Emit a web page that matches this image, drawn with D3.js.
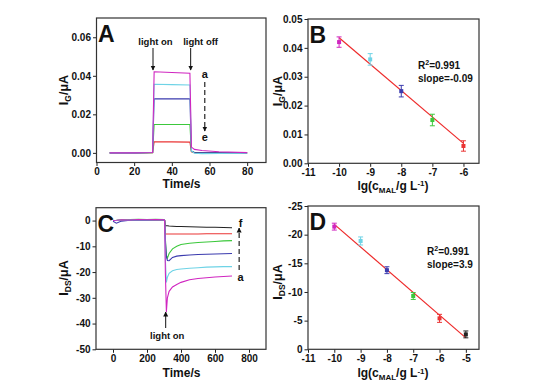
<!DOCTYPE html>
<html>
<head>
<meta charset="utf-8">
<script src="https://cdn.jsdelivr.net/npm/d3@7"></script>
<style>
body { margin: 0; background: #fff; }
svg text { font-family: "Liberation Sans", Arial, sans-serif; font-weight: bold; fill: #111; }
</style>
</head>
<body>
<script>
// ---- panel A : I_G vs time (curves a..e)
var timeA = [7, 20, 29.8, 30.6, 40, 49.6, 50.4, 52, 56, 65, 80];
var igA_a = [0, 0, 0.0002, 0.0421, 0.0417, 0.0413, 0.003, 0.0018, 0.0012, 0.0006, 0.0001];
var igA_b = [0, 0, 0.0002, 0.0356, 0.0354, 0.0352, 0.001, -0.0002, -0.0004, -0.0003, -0.0002];
var igA_c = [0, 0, 0.0002, 0.0281, 0.028, 0.028, 0.001, 0.0002, 0, 0, 0];
var igA_d = [0, 0, 0.0001, 0.0147, 0.0147, 0.0147, 0.0008, 0.0002, 0, -0.0001, -0.0001];
var igA_e = [0, 0, 0.0001, 0.0057, 0.0057, 0.0056, 0.0005, 0.0001, 0, 0, 0];

// ---- panel B : I_G vs lg c
var lgB = [-10, -9, -8, -7, -6];
var igB = [0.042, 0.036, 0.025, 0.015, 0.006];
var errB = [0.0018, 0.002, 0.002, 0.002, 0.0018];
var fitB = [0.0435, 0.0069];

// ---- panel C : I_DS vs time (curves a..f)
var timeC = [0, 20, 50, 100, 150, 200, 250, 300, 304, 308, 314, 320, 330, 350, 375, 400, 450, 500, 550, 600, 650, 700];
var idsC_a = [0, 0.1, 0.3, 0.2, 0.4, 0.3, 0.4, 0.3, 0, -20, -35.5, -30, -27.5, -25.8, -24.8, -24, -23, -22.5, -22.2, -21.9, -21.7, -21.5];
var idsC_b = [0, 0, 0.2, 0.2, 0.3, 0.2, 0.3, 0.2, 0, -15, -24, -22, -20.5, -19.5, -19, -18.8, -18.5, -18.3, -18.1, -18, -17.9, -17.9];
var idsC_c = [-0.3, -1, -0.2, 0.1, 0.2, 0.1, 0.2, 0.2, 0, -8, -14, -15.5, -15.6, -14.3, -13.8, -13.6, -13.4, -13.2, -13.1, -13, -12.9, -12.8];
var idsC_d = [0, 0.1, 0.3, 0.4, 0.5, 0.4, 0.5, 0.4, 0, -7, -13.5, -14.6, -12.8, -11, -10, -9.3, -8.8, -8.5, -8.3, -8.1, -7.9, -7.8];
var idsC_e = [0, 0, 0, 0.1, 0.1, 0.1, 0.1, 0.1, 0, -5.1, -5.2, -5.2, -5.2, -5.2, -5.2, -5.2, -5.2, -5.2, -5.1, -5.1, -5.1, -5.1];
var idsC_f = [0, 0, 0.1, 0.1, 0.1, 0.1, 0.1, 0.1, 0, -2, -2, -2, -2.1, -2.2, -2.3, -2.3, -2.4, -2.5, -2.6, -2.6, -2.7, -2.8];

// ---- panel D : I_DS vs lg c
var lgD = [-10, -9, -8, -7, -6, -5];
var idsD = [-21.4, -18.9, -13.8, -9.3, -5.4, -2.6];
var errD = [0.6, 0.7, 0.6, 0.6, 0.7, 0.6];
var fitD = [-21.8, -2.0];

var colA = ['#d026c0', '#6ed3e6', '#3b3bae', '#3cc83c', '#ea3434'];
var colC = ['#d026c0', '#6ed3e6', '#3b3bae', '#3cc83c', '#ea3434', '#222222'];
var colB = ['#d026c0', '#6ed3e6', '#3b3bae', '#3cc83c', '#ea3434', '#222222'];
var fitColor = '#ee2a2a';

var svg = d3.select('body').append('svg')
    .attr('width', 545)
    .attr('height', 389);

var defs = svg.append('defs');
defs.append('marker')
    .attr('id', 'arr')
    .attr('viewBox', '0 0 10 10')
    .attr('refX', 9).attr('refY', 5)
    .attr('markerWidth', 5).attr('markerHeight', 7)
    .attr('markerUnits', 'userSpaceOnUse')
    .attr('orient', 'auto')
    .append('path').attr('d', 'M0,0L10,5L0,10Z').attr('fill', '#111');

var plain = function(d) { return String(d); };

function makePanel(o) {
    var x = d3.scaleLinear().domain(o.xDomain).range([o.left, o.right]);
    var y = d3.scaleLinear().domain(o.yDomain).range([o.bottom, o.top]);
    var g = svg.append('g');

    var xb = g.append('g').attr('transform', 'translate(0,' + o.bottom + ')');
    xb.call(d3.axisBottom(x).tickValues(o.xMinor).tickSize(2).tickSizeOuter(0).tickFormat(''));
    xb.call(d3.axisBottom(x).tickValues(o.xTicks).tickSize(3.5).tickSizeOuter(0).tickPadding(2).tickFormat(plain));
    var yl = g.append('g').attr('transform', 'translate(' + o.left + ',0)');
    yl.call(d3.axisLeft(y).tickValues(o.yMinor).tickSize(2).tickSizeOuter(0).tickFormat(''));
    yl.call(d3.axisLeft(y).tickValues(o.yTicks).tickSize(3.5).tickSizeOuter(0).tickPadding(2).tickFormat(o.yFmt || plain));
    g.selectAll('.domain').remove();
    g.selectAll('.tick line').attr('stroke', '#222');
    g.selectAll('.tick text').attr('font-size', 10);

    g.append('rect')
        .attr('x', o.left).attr('y', o.top)
        .attr('width', o.right - o.left).attr('height', o.bottom - o.top)
        .attr('fill', 'none').attr('stroke', '#333').attr('stroke-width', 1.2);

    g.append('text')
        .attr('x', o.left + 1.5).attr('y', o.top + 24)
        .attr('font-size', 23)
        .text(o.letter);
    return { x: x, y: y, g: g };
}

function yTitle(g, xPos, yPos, main, sub) {
    var t = g.append('text')
        .attr('transform', 'translate(' + xPos + ',' + yPos + ') rotate(-90)')
        .attr('text-anchor', 'middle')
        .attr('font-size', 12.5);
    t.append('tspan').text(main);
    t.append('tspan').attr('font-size', 8.5).attr('dy', 3).text(sub);
    t.append('tspan').attr('dy', -3).text('/\u03bcA');
}

function lgTitle(g, xPos, yPos) {
    var t = g.append('text')
        .attr('x', xPos).attr('y', yPos)
        .attr('text-anchor', 'middle')
        .attr('font-size', 12);
    t.append('tspan').text('lg(c');
    t.append('tspan').attr('font-size', 8).attr('dy', 3).text('MAL');
    t.append('tspan').attr('dy', -3).text('/g L');
    t.append('tspan').attr('font-size', 8).attr('dy', -3.5).text('-1');
    t.append('tspan').attr('dy', 3.5).text(')');
}

function fitText(g, xPos, yPos, slope) {
    var t = g.append('text').attr('x', xPos).attr('y', yPos).attr('font-size', 10);
    t.append('tspan').text('R');
    t.append('tspan').attr('font-size', 7).attr('dy', -4).text('2');
    t.append('tspan').attr('dy', 4).text('=0.991');
    g.append('text').attr('x', xPos).attr('y', yPos + 13).attr('font-size', 10).text('slope=' + slope);
}

// ================= A
var A = makePanel({
    left: 96.5, right: 266, top: 18, bottom: 162.5,
    xDomain: [0, 90], yDomain: [-0.005, 0.07],
    xTicks: [0, 20, 40, 60, 80], xMinor: [10, 30, 50, 70],
    yTicks: [0, 0.02, 0.04, 0.06], yMinor: [0.01, 0.03, 0.05],
    yFmt: d3.format('.2f'), letter: 'A'
});
var lineA = d3.line().x(function(d) { return A.x(d[0]); }).y(function(d) { return A.y(d[1]); });
[igA_e, igA_d, igA_c, igA_b, igA_a].forEach(function(s, i) {
    A.g.append('path')
        .datum(timeA.map(function(t, j) { return [t, s[j]]; }))
        .attr('d', lineA)
        .attr('fill', 'none')
        .attr('stroke', colA[4 - i])
        .attr('stroke-width', 1.1);
});
A.g.append('text').attr('x', A.x(31.3)).attr('y', 45).attr('text-anchor', 'middle').attr('font-size', 9.5).text('light on');
A.g.append('text').attr('x', A.x(55.3)).attr('y', 45).attr('text-anchor', 'middle').attr('font-size', 9.5).text('light off');
[30, 50].forEach(function(t) {
    A.g.append('line')
        .attr('x1', A.x(t)).attr('x2', A.x(t))
        .attr('y1', 48).attr('y2', 70)
        .attr('stroke', '#111').attr('stroke-width', 1)
        .attr('marker-end', 'url(#arr)');
});
A.g.append('text').attr('x', A.x(57.5)).attr('y', 78).attr('text-anchor', 'middle').attr('font-size', 11).text('a');
A.g.append('text').attr('x', A.x(57.5)).attr('y', 141).attr('text-anchor', 'middle').attr('font-size', 11).text('e');
A.g.append('line')
    .attr('x1', A.x(57.5)).attr('x2', A.x(57.5))
    .attr('y1', 82).attr('y2', 131)
    .attr('stroke', '#111').attr('stroke-width', 1.1)
    .attr('stroke-dasharray', '5,3')
    .attr('marker-end', 'url(#arr)');
A.g.append('text').attr('x', 181.5).attr('y', 188).attr('text-anchor', 'middle').attr('font-size', 12).text('Time/s');
yTitle(A.g, 68, 90, 'I', 'G');

// ================= B
var B = makePanel({
    left: 308, right: 479, top: 19, bottom: 163.3,
    xDomain: [-11, -5.5], yDomain: [0, 0.05],
    xTicks: [-11, -10, -9, -8, -7, -6], xMinor: [-10.5, -9.5, -8.5, -7.5, -6.5],
    yTicks: [0, 0.01, 0.02, 0.03, 0.04, 0.05], yMinor: [0.005, 0.015, 0.025, 0.035, 0.045],
    yFmt: d3.format('.2f'), letter: 'B'
});
B.g.append('line')
    .attr('x1', B.x(lgB[0])).attr('x2', B.x(lgB[lgB.length - 1]))
    .attr('y1', B.y(fitB[0])).attr('y2', B.y(fitB[1]))
    .attr('stroke', fitColor).attr('stroke-width', 1.2);
function errPoints(P, xs, ys, es) {
    xs.forEach(function(v, i) {
        var c = colB[i];
        var cx = P.x(v);
        P.g.append('line').attr('x1', cx).attr('x2', cx)
            .attr('y1', P.y(ys[i] - es[i])).attr('y2', P.y(ys[i] + es[i]))
            .attr('stroke', c).attr('stroke-width', 1);
        [ys[i] - es[i], ys[i] + es[i]].forEach(function(e) {
            P.g.append('line').attr('x1', cx - 2.5).attr('x2', cx + 2.5)
                .attr('y1', P.y(e)).attr('y2', P.y(e))
                .attr('stroke', c).attr('stroke-width', 1);
        });
        P.g.append('rect').attr('x', cx - 2).attr('y', P.y(ys[i]) - 2)
            .attr('width', 4).attr('height', 4).attr('fill', c);
    });
}
errPoints(B, lgB, igB, errB);
fitText(B.g, 418, 68.5, '-0.09');
lgTitle(B.g, 393, 189.5);
yTitle(B.g, 281.5, 91, 'I', 'G');

// ================= C
var C = makePanel({
    left: 96, right: 266, top: 207.7, bottom: 349.3,
    xDomain: [-100, 900], yDomain: [-50, 5],
    xTicks: [0, 200, 400, 600, 800], xMinor: [100, 300, 500, 700],
    yTicks: [0, -10, -20, -30, -40, -50], yMinor: [-5, -15, -25, -35, -45],
    letter: 'C'
});
var lineC = d3.line().x(function(d) { return C.x(d[0]); }).y(function(d) { return C.y(d[1]); });
[idsC_f, idsC_e, idsC_d, idsC_c, idsC_b, idsC_a].forEach(function(s, i) {
    C.g.append('path')
        .datum(timeC.map(function(t, j) { return [t, s[j]]; }))
        .attr('d', lineC)
        .attr('fill', 'none')
        .attr('stroke', colC[5 - i])
        .attr('stroke-width', 1.1);
});
C.g.append('text').attr('x', C.x(751)).attr('y', 227).attr('text-anchor', 'middle').attr('font-size', 11).text('f');
C.g.append('text').attr('x', C.x(751)).attr('y', 281).attr('text-anchor', 'middle').attr('font-size', 11).text('a');
C.g.append('line')
    .attr('x1', C.x(742)).attr('x2', C.x(742))
    .attr('y1', 270).attr('y2', 228)
    .attr('stroke', '#111').attr('stroke-width', 1.1)
    .attr('stroke-dasharray', '5,3')
    .attr('marker-end', 'url(#arr)');
C.g.append('line')
    .attr('x1', C.x(310)).attr('x2', C.x(310))
    .attr('y1', 328).attr('y2', 312)
    .attr('stroke', '#111').attr('stroke-width', 1)
    .attr('marker-end', 'url(#arr)');
C.g.append('text').attr('x', C.x(319)).attr('y', 338.5).attr('text-anchor', 'middle').attr('font-size', 9.5).text('light on');
C.g.append('text').attr('x', 181.5).attr('y', 377).attr('text-anchor', 'middle').attr('font-size', 12).text('Time/s');
yTitle(C.g, 68, 278, 'I', 'DS');

// ================= D
var D = makePanel({
    left: 308, right: 479, top: 206, bottom: 349.3,
    xDomain: [-11, -4.5], yDomain: [0, -25],
    xTicks: [-11, -10, -9, -8, -7, -6, -5], xMinor: [-10.5, -9.5, -8.5, -7.5, -6.5, -5.5],
    yTicks: [0, -5, -10, -15, -20, -25], yMinor: [-2.5, -7.5, -12.5, -17.5, -22.5],
    letter: 'D'
});
D.g.append('line')
    .attr('x1', D.x(lgD[0])).attr('x2', D.x(lgD[lgD.length - 1]))
    .attr('y1', D.y(fitD[0])).attr('y2', D.y(fitD[1]))
    .attr('stroke', fitColor).attr('stroke-width', 1.2);
errPoints(D, lgD, idsD, errD);
fitText(D.g, 427, 254.5, '3.9');
lgTitle(D.g, 393, 377);
yTitle(D.g, 282, 282, 'I', 'DS');
</script>
</body>
</html>
